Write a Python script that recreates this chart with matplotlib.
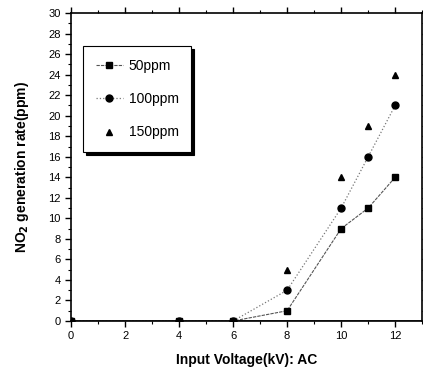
import numpy as np
import matplotlib
matplotlib.use("Agg")
import matplotlib.pyplot as plt
from matplotlib.ticker import MultipleLocator

voltage = [0, 4, 6, 8, 10, 11, 12]
ppm50 = [0, 0, 0, 1, 9, 11, 14]
ppm100 = [0, 0, 0, 3, 11, 16, 21]
ppm150 = [0, 0, 0, 5, 14, 19, 24]

plt.rcParams['font.family'] = ['Liberation Sans Narrow', 'Liberation Sans', 'DejaVu Sans']

fig = plt.figure(figsize=(4.23, 3.75), dpi=100)
ax = fig.add_axes([0.168, 0.144, 0.83, 0.821])

ax.plot(voltage, ppm50, color='#555555', lw=0.8, ls=(0, (3, 1)), marker='s', ms=5,
        mfc='black', mec='black', label='50ppm')
ax.plot(voltage, ppm100, color='#777777', lw=0.9, ls=':', marker='o', ms=5,
        mfc='black', mec='black', label='100ppm')
ax.plot(voltage, ppm150, ls='none', marker='^', ms=5,
        mfc='black', mec='black', label='150ppm')

ax.axhline(0, color='#333333', lw=2, zorder=1)

ax.set_xlim(0, 13)
ax.set_ylim(0, 30)
ax.xaxis.set_major_locator(MultipleLocator(2))
ax.xaxis.set_minor_locator(MultipleLocator(1))
ax.yaxis.set_major_locator(MultipleLocator(2))
ax.yaxis.set_minor_locator(MultipleLocator(1))
ax.tick_params(which='both', top=True, right=True, direction='out', labelsize=8)
ax.tick_params(which='major', length=4, width=1)
ax.tick_params(which='minor', length=2, width=0.8)
for s in ax.spines.values():
    s.set_linewidth(1.2)

ax.set_xlabel('Input Voltage(kV): AC', fontsize=10, fontweight='bold', labelpad=8)
ax.set_ylabel('NO$_\\mathbf{2}$ generation rate(ppm)', fontsize=10, fontweight='bold', labelpad=12)

leg = ax.legend(loc='upper left', bbox_to_anchor=(0.034, 0.893), borderaxespad=0,
                fontsize=10, frameon=True, fancybox=False, shadow={'color': 'black', 'alpha': 1},
                handlelength=2.0, labelspacing=1.4, borderpad=0.9, handletextpad=0.4,
                edgecolor='black')
leg.get_frame().set_linewidth(0.8)

fig.savefig('out.png', dpi=100)
